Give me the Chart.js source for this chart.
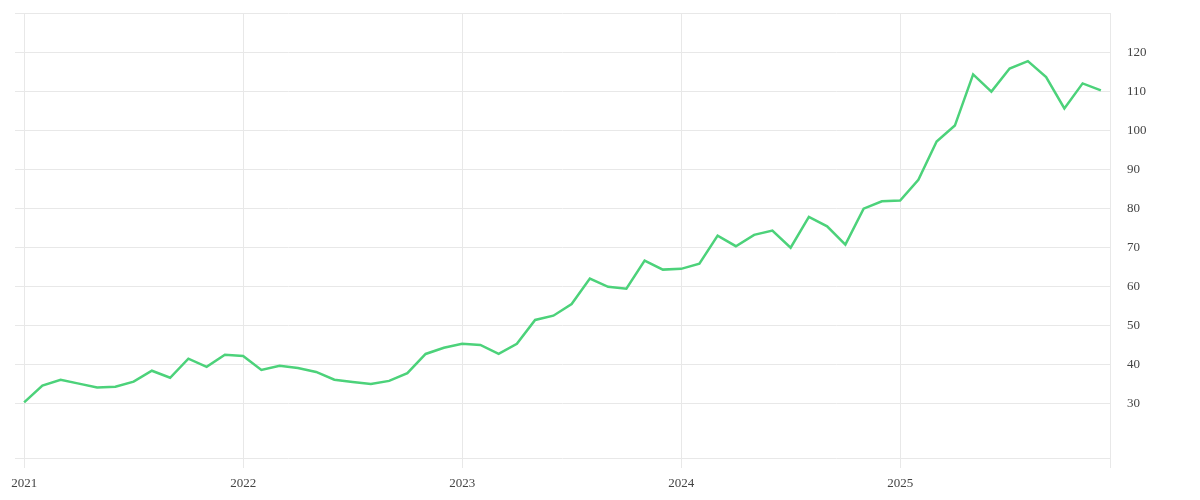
<!DOCTYPE html>
<html>
<head>
<meta charset="utf-8">
<script src="https://cdn.jsdelivr.net/npm/chart.js@4/dist/chart.umd.min.js"></script>
<style>
  html, body { margin: 0; padding: 0; background: #fff; }
  #wrap { width: 1200px; height: 500px; }
</style>
</head>
<body>
<div id="wrap"><canvas id="grafico"></canvas></div>
<script>
// monthly values, Jan 2021 .. Dec 2025
const valores = [
  30.4, 34.7, 36.2, 35.2, 34.2, 34.4, 35.7, 38.5, 36.7, 41.6, 39.5, 42.6,
  42.3, 38.7, 39.8, 39.2, 38.2, 36.2, 35.6, 35.1, 35.9, 37.9, 42.8, 44.4,
  45.4, 45.1, 42.8, 45.4, 51.5, 52.6, 55.6, 62.1, 60.0, 59.5, 66.7, 64.4,
  64.6, 65.9, 73.1, 70.4, 73.3, 74.4, 70.0, 77.9, 75.5, 70.8, 80.0, 81.9,
  82.1, 87.4, 97.2, 101.3, 114.4, 110.0, 115.9, 117.8, 113.7, 105.7, 112.1, 110.3
];
const anos = ['2021', '2022', '2023', '2024', '2025'];
const ticksY = [30, 40, 50, 60, 70, 80, 90, 100, 110, 120];

const minY = 16.15;
const maxY = 130;
const fimX = valores.length - 0.5;

const pontos = valores.map((v, i) => ({ x: i, y: v }));
const corGrade = '#e8e8e8';
const fonte = { family: "'Liberation Serif', serif", size: 13 };

const ctx = document.getElementById('grafico').getContext('2d');

new Chart(ctx, {
  type: 'line',
  data: {
    datasets: [{
      data: pontos,
      borderColor: '#4cd27a',
      borderWidth: 2.5,
      pointRadius: 0,
      tension: 0,
      fill: false
    }]
  },
  options: {
    responsive: true,
    maintainAspectRatio: false,
    animation: false,
    layout: { autoPadding: false, padding: { left: 15, top: 13.5, right: 0, bottom: 0 } },
    plugins: {
      legend: { display: false },
      tooltip: { enabled: false }
    },
    scales: {
      x: {
        type: 'linear',
        min: -0.5,
        max: fimX,
        afterBuildTicks: (s) => {
          const t = anos.map((a, i) => ({ value: i * 12 }));
          t.push({ value: fimX });
          s.ticks = t;
        },
        afterFit: (s) => { s.height = 42; },
        ticks: {
          autoSkip: false,
          maxRotation: 0,
          padding: 8,
          color: '#444',
          font: fonte,
          callback: (v) => {
            const idx = v / 12;
            return Number.isInteger(idx) && anos[idx] ? anos[idx] : '';
          }
        },
        grid: {
          color: corGrade,
          lineWidth: 1,
          tickLength: 10,
          drawTicks: true
        },
        border: { display: false }
      },
      y: {
        position: 'right',
        min: minY,
        max: maxY,
        afterBuildTicks: (s) => {
          s.ticks = [minY, ...ticksY, maxY].map(v => ({ value: v }));
        },
        afterFit: (s) => { s.width = 90; },
        ticks: {
          padding: 3,
          color: '#444',
          font: fonte,
          callback: (v) => (v === minY || v === maxY) ? '' : v
        },
        grid: {
          color: corGrade,
          lineWidth: 1,
          drawTicks: true,
          tickLength: 14,
          tickColor: 'rgba(0,0,0,0)'
        },
        border: { display: true, color: corGrade }
      }
    }
  }
});
</script>
</body>
</html>
